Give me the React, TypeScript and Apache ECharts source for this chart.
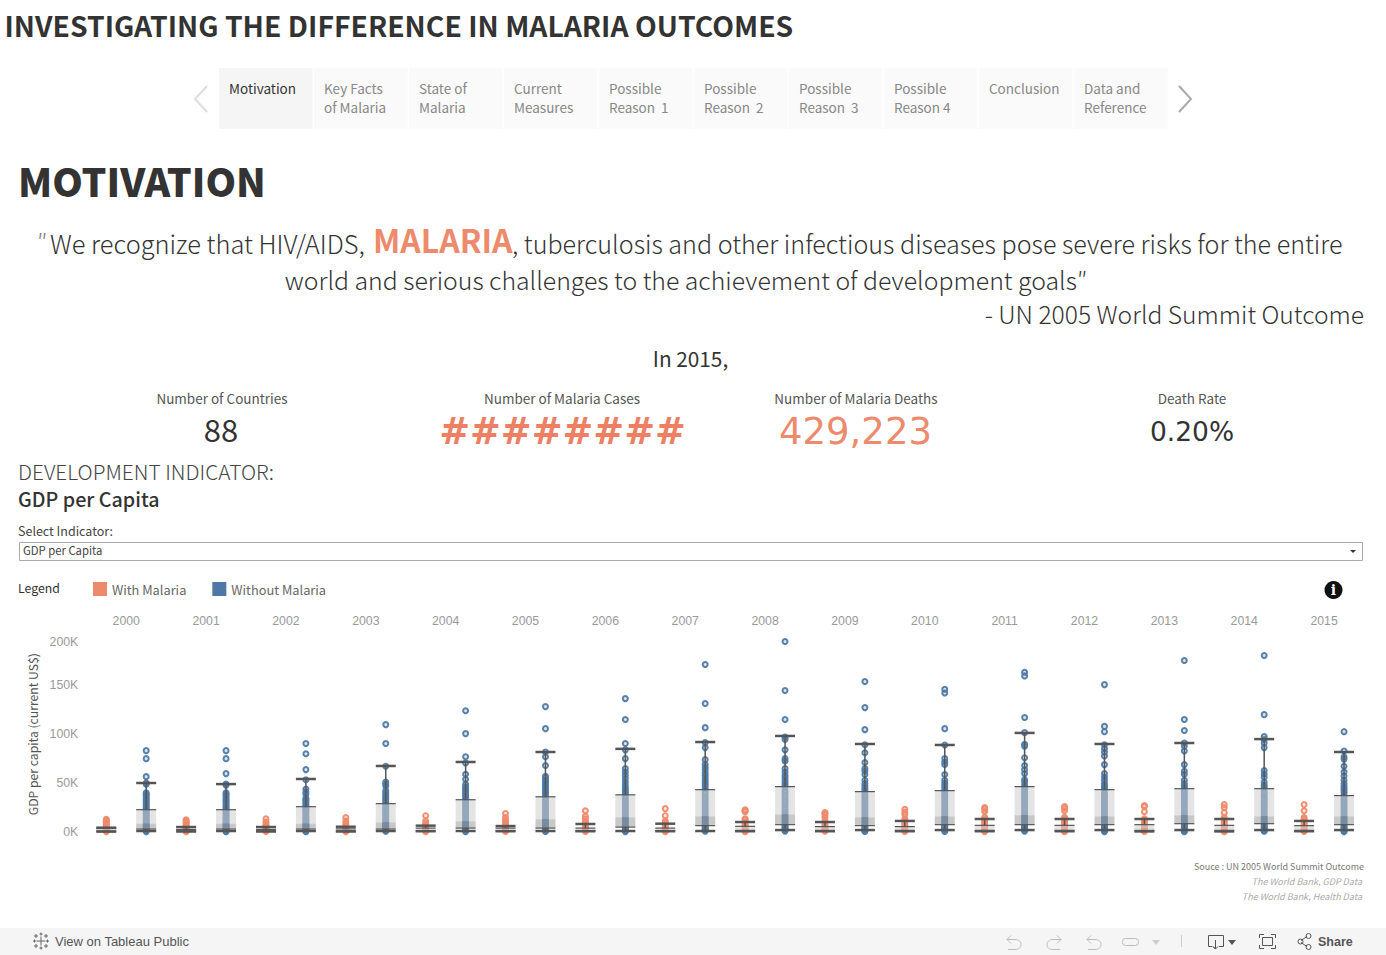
import React, { useEffect, useRef } from "react";
import * as echarts from "echarts";

const years = ["2000","2001","2002","2003","2004","2005","2006","2007","2008","2009","2010","2011","2012","2013","2014","2015"];

// Box statistics, in thousands of current US$, per year
const withCapTop = [4.4,5.1,5.1,5.4,6.5,6.1,8.2,8.5,10.2,10.2,11.3,13.3,13.3,13.3,13.3,11.3];
const withQ3 = [3.6,2.6,2.6,3.2,4,4,4,4,5.8,5.5,5.5,6.8,6.8,7.5,6.8,6.5];
const withMedian = [1.8,1.7,1.7,1.8,2.2,2.2,2.4,2.4,3,3,3,3.2,3.2,3.4,3.3,3.2];
const withQ1 = [1,1.2,1.2,1.2,1.1,1.1,1.1,1.1,1.1,1.1,1.1,1.1,1.1,1.4,1.4,1.1];
const withLow = [0.4,0.5,0.5,0.5,0.8,0.8,0.8,0.8,0.8,0.8,0.8,0.8,0.8,0.6,0.6,0.8];

const withoutCapTop = [50.1,49,54.2,67.5,71.6,81.8,85,92,98.2,90,89,101.3,90,91,95,81.8];
const withoutQ3 = [22.8,22.8,25.9,29,33,36,38,43.3,46.4,41.3,42.3,46.4,43.3,44.3,44.3,37.2];
const withoutMedian = [8.5,8.5,8.5,9.9,10.9,13,15,16,18,15,16,17,16,17,16,16];
const withoutQ1 = [3,3,3,3,4,4,5,6.5,7.5,6.5,7.5,7.5,7.5,8.5,8.5,7.5];
const withoutLow = [1,1,1,1,1,1,1,1,2,2,2,2,2,2,2,2];

// Individual countries, in thousands of current US$, per year
const withMalariaPoints = [
  [13,11.6,10.1,8.8,7.6,6.3,5.2,4.1,3,2.1,1.2,0.4],
  [12.6,11.3,10.2,8.9,7.4,6.2,5,3.9,2.8,1.9,1,0.3],
  [13.6,10.2,8.4,6.9,5.7,4.6,3.5,2.4,1.5,0.6],
  [14.7,11.3,9.1,7.2,5.8,4.5,3.4,2.3,1.3,0.4],
  [16.7,11.3,8.9,7,5.6,4.4,3.2,2.2,1.2,0.4],
  [18.8,14.7,12,10.2,8.3,6.6,5.2,3.9,2.7,1.6,0.5],
  [21.8,16,13.6,11.3,9.4,7.4,5.8,4.2,3,1.8,0.6],
  [23.9,16.7,11.3,9.6,7.9,6.4,4.8,3.5,2.2,1.1,0.4],
  [22.8,21.6,20.8,13.6,12.6,10.2,8.4,6.8,5.1,3.7,2.3,1,0.3],
  [20,18.8,17.4,14.7,11.3,9.5,7.8,6.1,4.5,3.2,1.9,0.7],
  [23.2,20.5,17.9,13.6,11.3,9.6,8,6.3,4.6,3.3,1.8,0.6],
  [25,23.4,21,15,13.2,11.3,9.5,7.7,6,4.4,2.9,1.4,0.4],
  [26,24.2,21.8,15,13.4,11.7,9.8,7.9,6.2,4.5,2.8,1.3,0.3],
  [27,26,20.8,13.6,11.9,10.1,8.3,6.6,4.9,3.4,2,0.6],
  [28,25,19.8,14.7,12.7,10.9,9.1,7.3,5.6,3.8,2.4,1,0.3],
  [28,21.8,14.7,13.1,11.5,9.7,8,6.2,4.6,3,1.6,0.5],
];
const withoutMalariaPoints = [
  [83.2,75,56.6,50.1,48.9,40,38.5,37.2,35.4,33.6,32,30.2,28.7,27,25.6,24.1,22.3,19.8,16.9,13.7,10.9,8.1,6.2,4.3,2.6,1.2,0.4,21.1,18.4,15.2,12.3,9.6,7.2,5.3,3.4,1.9],
  [83.2,75,59.7,49,47.8,40,38.5,36.8,35.1,33.2,31.6,30.1,28.2,26.7,25.1,23.6,21.4,18.2,15.3,12.6,9.7,7.4,5.3,3.6,2.1,0.9,0.3,22.5,19.7,16.8,14,11.2,8.6,6.3,4.4,2.8],
  [90.4,80,63.8,53.5,44,41,38.5,34.6,33.1,31.7,30.2,28.4,26.9,25,22.7,19.6,16.2,13.4,10.5,8,6,4.1,2.4,1.1,0.3,24.1,21.2,17.9,14.8,11.9,9.3,7,5.1,3.2,1.7],
  [109.8,90.4,67.2,51,49,47,42.3,40,37.8,36.1,34.4,32.7,30.9,29.2,27.3,25.5,22.6,19.3,15.8,12.9,9.7,7.2,5.1,3.4,1.9,0.7,24,21,17.6,14.4,11.3,8.4,6.1,4.2,2.6,1.3],
  [124,100.6,77,70.6,59,54,48.8,46.3,44.7,42.6,40.9,39.1,37.2,35.6,33.7,31.4,28.3,24.6,20.7,16.9,13.2,9.9,7.1,4.8,2.9,1.2,0.4,30,26.5,22.6,18.8,15,11.5,8.5,5.9,3.8,2],
  [128.2,105.7,81.8,77,67.9,57,55.3,53,51.3,49.2,47.1,45.5,43.4,41.6,39.8,37.6,34.2,29.8,25.1,20.7,16.3,12.6,9.1,6.2,3.7,1.6,0.5,32,27.5,22.9,18.5,14.4,10.8,7.6,4.9,2.6],
  [136.4,115,90.4,84,75,64.8,61.4,58,54.6,51.2,47.7,44.9,42.8,40.6,38.4,35.2,31.4,27.1,22.9,18.6,14.8,11.3,8.2,5.3,3,1.2,0.4,33.3,29.2,25,20.7,16.7,13,9.7,6.7,4.1,2.1],
  [171.2,131.3,106.7,91.4,86.3,74,69,66.3,63.4,60.1,57.6,54.7,52.2,49.6,47.3,44.8,41.7,36.9,32,27.3,22.8,18.1,14.2,10.5,7.3,4.6,2.4,0.8,39.3,34.4,29.6,25,20.4,16.1,12.3,8.9,5.9,3.4,1.6],
  [194.7,144.6,115,97,94.5,84,75,72.6,64.8,61.4,58,55.7,52.8,50.4,48.1,45.7,42.2,37.6,32.4,27.8,23.1,18.9,14.6,10.8,7.6,4.9,2.6,0.9,39.9,35,30.1,25.4,21,16.7,12.7,9.2,6.2,3.7,1.7],
  [153.8,127.2,104.7,89.3,81,71,64.8,62.4,58.7,53,49.6,47.2,45,42.9,40.6,37.9,33.7,29.3,25,20.8,16.6,12.7,9.2,6.1,3.6,1.3,0.5,35.8,31.5,27.1,22.9,18.7,14.6,10.9,7.6,4.8,2.4],
  [146,142.2,105.7,89,75,71.6,69,58.7,53,50.2,47.8,45.4,43.4,41.2,38.7,34.9,30.4,25.8,21.1,17.2,13.3,9.8,6.7,4.2,1.9,0.6,36.8,32.6,28.1,23.4,19.1,15.2,11.5,8.2,5.4,3],
  [163.3,159.6,117,101.6,89.6,87.6,76,68,63.6,59.7,53.5,51.2,47.6,45.7,43.8,41.5,37.2,32.6,27.9,23.1,18.7,14.5,10.6,7.4,4.5,2.1,0.7,39.4,34.9,30.2,25.5,20.9,16.6,12.5,9,6,3.3],
  [150.7,108,102.6,89.3,85.3,81.8,77.7,68.9,59.7,56.3,52.9,49.4,47.1,45.2,43.1,39.8,34.9,30.3,25.8,21,16.7,12.6,8.9,5.9,3.1,1,0.4,37.3,32.6,28,23.4,18.8,14.6,10.7,7.4,4.5,2],
  [175.3,115,103.7,91,87.6,82.9,68.9,62.1,59,52.9,49.5,47.3,45.3,42.7,38.6,33.9,29.4,25.2,20.5,16.3,12.1,8.8,5.7,3.1,1.1,0.3,40.6,36.2,31.6,27.3,22.8,18.4,14.2,10.4,7.2,4.4,2],
  [180.4,120,97.5,94.5,91,86.3,62.8,59.4,56,50.9,48.1,46.2,44.2,41.3,36.7,32.2,27.6,23,18.8,14.7,10.9,7.7,4.8,2.3,0.7,39,34.4,29.9,25.3,20.9,16.7,12.8,9.3,6.2,3.5,1.4],
  [102.6,82.9,76.7,74.3,67.2,61.4,57.3,52.9,49.5,46.8,44.6,42.4,40.1,37.3,32.8,28.6,24.2,19.9,15.8,12,8.6,5.6,3,1,0.3,35,30.7,26.4,22,17.8,13.9,10.3,7.1,4.3,2],
];

const categories = years.flatMap((y) => [`${y} With Malaria`, `${y} Without Malaria`]);
const ORANGE = "#ee8a6c";
const BLUE = "#4e79a7";
const FONT = '"Noto Sans CJK SC","Noto Sans",sans-serif';
const ARIAL = '"Liberation Sans",Arial,sans-serif';
const DEJAVU = '"DejaVu Sans",sans-serif';

const boxRows = years.flatMap((_, i) => [
  [i * 2, withCapTop[i], withQ3[i], withMedian[i], withQ1[i], withLow[i]],
  [i * 2 + 1, withoutCapTop[i], withoutQ3[i], withoutMedian[i], withoutQ1[i], withoutLow[i]],
]);
const pointsOf = (lists: number[][], offset: number) =>
  lists.flatMap((vals, i) => vals.map((v) => [i * 2 + offset, v]));

echarts.graphic.registerShape("undoIcon", echarts.graphic.extendPath("M1 5 L5 1 M1 5 L5 9 M1 5 L9 5 C13 5 15 7.5 15 10 C15 13 13 15 9 15 L2 15", {}));
echarts.graphic.registerShape("redoIcon", echarts.graphic.extendPath("M15 5 L11 1 M15 5 L11 9 M15 5 L7 5 C3 5 1 7.5 1 10 C1 13 3 15 7 15 L14 15", {}));
echarts.graphic.registerShape("shareIcon", echarts.graphic.extendPath("M5 8 L11 4 M5 10 L11 14 M7 9 A2.5 2.5 0 1 1 2 9 A2.5 2.5 0 1 1 7 9 M15 3.5 A2.5 2.5 0 1 1 10 3.5 A2.5 2.5 0 1 1 15 3.5 M15 14.5 A2.5 2.5 0 1 1 10 14.5 A2.5 2.5 0 1 1 15 14.5", {}));

const txt = (text: string, x: number, y: number, size: number, fill: string, extra: any = {}) => {
  const family = extra.fontFamily || FONT;
  return {
    type: "text",
    silent: true,
    style: {
      text, x,
      y: family === FONT ? y - size * 0.07 : y,
      fill,
      fontSize: size,
      fontFamily: family,
      fontWeight: extra.fontWeight || 400,
      fontStyle: extra.fontStyle || "normal",
      textAlign: extra.align || "left",
      textVerticalAlign: "middle",
      verticalAlign: "middle",
    },
  };
};
const stroke = (c: string, w = 1) => ({ stroke: c, lineWidth: w, fill: "none" });

const tabs = [
  ["Motivation", ""], ["Key Facts", "of Malaria"], ["State of", "Malaria"], ["Current", "Measures"],
  ["Possible", "Reason  1"], ["Possible", "Reason  2"], ["Possible", "Reason  3"], ["Possible", "Reason 4"],
  ["Conclusion", ""], ["Data and", "Reference"],
];

function buildGraphics() {
  const g: any[] = [];
  g.push(txt("INVESTIGATING THE DIFFERENCE IN MALARIA OUTCOMES", 4.5, 26, 28.3, "#333333", { fontWeight: 700 }));
  tabs.forEach((t, i) => {
    const x = 219 + i * 95;
    g.push({ type: "rect", shape: { x, y: 68, width: 93.5, height: 61 }, style: { fill: i === 0 ? "#f5f5f5" : "#fafafa" } });
    g.push(txt(t[0], x + 10, 88.5, 13.5, i === 0 ? "#333333" : "#888888"));
    if (t[1]) g.push(txt(t[1], x + 10, 107.5, 13.5, "#888888"));
  });
  g.push({ type: "polyline", shape: { points: [[207, 86], [195, 99], [207, 112]] }, style: stroke("#dddddd", 2) });
  g.push({ type: "polyline", shape: { points: [[1179, 86], [1191, 99], [1179, 112]] }, style: stroke("#aaaaaa", 2) });

  g.push(txt("MOTIVATION", 18, 182.5, 39, "#333333", { fontWeight: 900 }));
  g.push(txt("\u2033", 37, 243, 25, "#777777", { fontWeight: 300 }));
  g.push(txt("We recognize that HIV/AIDS,", 50, 244.3, 25.4, "#333333", { fontWeight: 300 }));
  g.push(txt("MALARIA", 373, 241.2, 32, ORANGE, { fontWeight: 700 }));
  g.push(txt(", tuberculosis and other infectious diseases pose severe risks for the entire", 512, 245, 25.1, "#333333", { fontWeight: 300 }));
  g.push(txt("world and serious challenges to the achievement of development goals\u2033", 686, 281, 24.8, "#333333", { fontWeight: 300, align: "center" }));
  g.push(txt("- UN 2005 World Summit Outcome", 1364, 315, 24.6, "#333333", { fontWeight: 300, align: "right" }));
  g.push(txt("In 2015,", 690.5, 359, 20.8, "#333333", { align: "center" }));

  g.push(txt("Number of Countries", 222, 398.5, 13.5, "#555555", { align: "center" }));
  g.push(txt("Number of Malaria Cases", 562, 398.5, 13.5, "#555555", { align: "center" }));
  g.push(txt("Number of Malaria Deaths", 856, 398.5, 13.5, "#555555", { align: "center" }));
  g.push(txt("Death Rate", 1192, 398.5, 13.5, "#555555", { align: "center" }));
  g.push(txt("88", 221, 431, 31, "#333333", { align: "center" }));
  g.push(txt("########", 562.5, 431, 36.8, "#ed8062", { align: "center", fontWeight: 700, fontFamily: DEJAVU }));
  g.push(txt("429,223", 855.5, 431, 37, ORANGE, { align: "center", fontFamily: DEJAVU }));
  g.push(txt("0.20%", 1192, 431, 26.5, "#333333", { align: "center", fontFamily: DEJAVU }));

  g.push(txt("DEVELOPMENT INDICATOR:", 18, 472, 20.8, "#444444", { fontWeight: 300 }));
  g.push(txt("GDP per Capita", 18, 500, 19.7, "#333333", { fontWeight: 500 }));
  g.push(txt("Select Indicator:", 18, 531, 12.5, "#444444"));
  g.push({ type: "rect", shape: { x: 19.5, y: 542.5, width: 1343, height: 18 }, style: { fill: "#ffffff", stroke: "#aaaaaa", lineWidth: 1 } });
  g.push(txt("GDP per Capita", 23, 551, 11.3, "#444444"));
  g.push({ type: "polygon", shape: { points: [[1350, 550], [1356, 550], [1353, 553]] }, style: { fill: "#333333" } });
  g.push(txt("Legend", 18, 589, 12.3, "#333333"));

  g.push({ type: "circle", shape: { cx: 1333.5, cy: 590, r: 9 }, style: { fill: "#111111" } });
  g.push(txt("i", 1333.5, 590, 14, "#ffffff", { align: "center", fontWeight: 700, fontFamily: '"DejaVu Serif",serif' }));

  g.push(txt("Souce : UN 2005 World Summit Outcome", 1364, 867, 9, "#777777", { align: "right" }));
  g.push(txt("The World Bank, GDP Data", 1362, 882, 9, "#aaaaaa", { align: "right", fontStyle: "italic" }));
  g.push(txt("The World Bank, Health Data", 1362, 897, 9, "#aaaaaa", { align: "right", fontStyle: "italic" }));

  // Footer bar
  g.push({ type: "rect", shape: { x: 0, y: 928, width: 1386, height: 27 }, style: { fill: "#f5f5f5" } });
  g.push(txt("View on Tableau Public", 55, 941.5, 13, "#555555", { fontFamily: ARIAL }));
  const logo = (cx: number, cy: number, r: number) => {
    g.push({ type: "line", shape: { x1: cx - r, y1: cy, x2: cx + r, y2: cy }, style: stroke("#666666", 1) });
    g.push({ type: "line", shape: { x1: cx, y1: cy - r, x2: cx, y2: cy + r }, style: stroke("#666666", 1) });
  };
  logo(41, 941, 4.5); logo(41, 934, 1.5); logo(41, 948, 1.5); logo(34.5, 941, 1.5); logo(47.5, 941, 1.5);
  logo(36, 936, 2); logo(46, 936, 2); logo(36, 946, 2); logo(46, 946, 2);

  const icon = (shape: string, x: number, c: string) =>
    g.push({ type: shape, x, y: 934.5, style: stroke(c, 1) });
  icon("undoIcon", 1006, "#bbbbbb");
  icon("redoIcon", 1046, "#bbbbbb");
  icon("undoIcon", 1086, "#bbbbbb");
  g.push({ type: "rect", shape: { x: 1122.5, y: 938.5, width: 16, height: 7, r: 3 }, style: stroke("#bbbbbb") });
  g.push({ type: "polygon", shape: { points: [[1152, 940], [1160, 940], [1156, 945]] }, style: { fill: "#cccccc" } });
  g.push({ type: "line", shape: { x1: 1181.5, y1: 935, x2: 1181.5, y2: 947 }, style: stroke("#cccccc") });
  g.push({ type: "polyline", shape: { points: [[1212, 946.5], [1208.5, 946.5], [1208.5, 935.5], [1223.5, 935.5], [1223.5, 946.5], [1219, 946.5]] }, style: stroke("#555555") });
  g.push({ type: "polyline", shape: { points: [[1215.5, 940], [1215.5, 949], [1213, 946.5], [1215.5, 949], [1218, 946.5]] }, style: stroke("#555555") });
  g.push({ type: "polygon", shape: { points: [[1228, 940], [1236, 940], [1232, 945]] }, style: { fill: "#555555" } });
  g.push({ type: "rect", shape: { x: 1262.5, y: 937.5, width: 10, height: 8 }, style: stroke("#555555") });
  [[1259.5, 938, 1259.5, 934.5, 1264, 934.5], [1271, 934.5, 1275.5, 934.5, 1275.5, 938], [1259.5, 945, 1259.5, 948.5, 1264, 948.5], [1271, 948.5, 1275.5, 948.5, 1275.5, 945]].forEach((p) =>
    g.push({ type: "polyline", shape: { points: [[p[0], p[1]], [p[2], p[3]], [p[4], p[5]]] }, style: stroke("#555555") })
  );
  g.push({ type: "shareIcon", x: 1296, y: 932.5, style: stroke("#555555") });
  g.push(txt("Share", 1318, 941.5, 12.5, "#555555", { fontFamily: ARIAL, fontWeight: 700 }));
  return g;
}

function renderBox(params: any, api: any) {
  const x = api.coord([api.value(0), 0])[0];
  const y = (dim: number) => api.coord([0, api.value(dim)])[1];
  const capTop = y(1), q3 = y(2), med = y(3), q1 = y(4), low = y(5);
  const hw = 10;
  const line = (x1: number, y1: number, x2: number, y2: number, w: number) => ({
    type: "line",
    shape: { x1, y1, x2, y2 },
    style: { stroke: "#555555", lineWidth: w },
  });
  return {
    type: "group",
    children: [
      { type: "rect", shape: { x: x - hw, y: q3, width: hw * 2, height: med - q3 }, style: { fill: "rgba(206,206,206,0.55)" } },
      { type: "rect", shape: { x: x - hw, y: med, width: hw * 2, height: q1 - med }, style: { fill: "rgba(155,155,155,0.55)" } },
      line(x, capTop, x, q3, 1.5),
      line(x, q1, x, low, 1.5),
      line(x - hw, q3, x + hw, q3, 1.2),
      line(x - hw, q1, x + hw, q1, 1.2),
      line(x - hw, capTop, x + hw, capTop, 2.5),
      line(x - hw, low, x + hw, low, 2.5),
    ],
  };
}

export default function App() {
  const ref = useRef<HTMLDivElement>(null);
  useEffect(() => {
    const chart = echarts.init(ref.current!, undefined, { renderer: "svg" });
    const ringStyle = (c: string, inner: string) => ({ color: inner, borderColor: c, borderWidth: 2, opacity: 0.95 });
    chart.setOption({
      animation: false,
      backgroundColor: "#ffffff",
      textStyle: { fontFamily: FONT },
      legend: {
        left: 93, top: 582, padding: 0, icon: "rect", itemWidth: 14, itemHeight: 14, itemGap: 26,
        selectedMode: false,
        textStyle: { color: "#666666", fontSize: 12.8, fontFamily: FONT, padding: [0, 0, 2, 0] },
        data: [
          { name: "With Malaria", itemStyle: { color: ORANGE, borderWidth: 0, opacity: 1 } },
          { name: "Without Malaria", itemStyle: { color: BLUE, borderWidth: 0, opacity: 1 } },
        ],
      },
      grid: { left: 86.3, width: 1277.7, top: 636.4, height: 195.6 },
      xAxis: [
        { type: "category", data: categories, position: "bottom", axisLine: { show: false }, axisTick: { show: false }, axisLabel: { show: false }, splitLine: { show: false } },
        {
          type: "category", data: years, position: "top",
          axisLine: { show: false }, axisTick: { show: false }, splitLine: { show: false },
          axisLabel: { color: "#999999", fontSize: 12.3, fontFamily: ARIAL, margin: 9, interval: 0 },
        },
      ],
      yAxis: {
        type: "value", min: 0, max: 200, interval: 50,
        name: "GDP per capita (current US$)", nameLocation: "middle", nameRotate: 90, nameGap: 45,
        nameTextStyle: { color: "#555555", fontSize: 12.2, fontFamily: FONT },
        axisLine: { show: false }, axisTick: { show: false }, splitLine: { show: false },
        axisLabel: { color: "#999999", fontSize: 12.3, fontFamily: ARIAL, margin: 8, formatter: (v: number) => `${v}K`, verticalAlignMaxLabel: "top" },
      },
      graphic: { elements: buildGraphics() },
      series: [
        { name: "With Malaria", type: "scatter", xAxisIndex: 0, symbol: "circle", symbolSize: 5, itemStyle: ringStyle(ORANGE, "rgba(238,138,108,0.2)"), data: pointsOf(withMalariaPoints, 0), z: 2 },
        { name: "Without Malaria", type: "scatter", xAxisIndex: 0, symbol: "circle", symbolSize: 5, itemStyle: ringStyle(BLUE, "rgba(78,121,167,0.2)"), data: pointsOf(withoutMalariaPoints, 1), z: 2 },
        { name: "Box", type: "custom", xAxisIndex: 0, renderItem: renderBox, data: boxRows, z: 3, encode: { x: 0, y: [1, 2, 3, 4, 5] } },
      ],
    });
    return () => chart.dispose();
  }, []);
  return <div ref={ref} style={{ position: "absolute", left: 0, top: 0, width: 1386, height: 955 }} />;
}
